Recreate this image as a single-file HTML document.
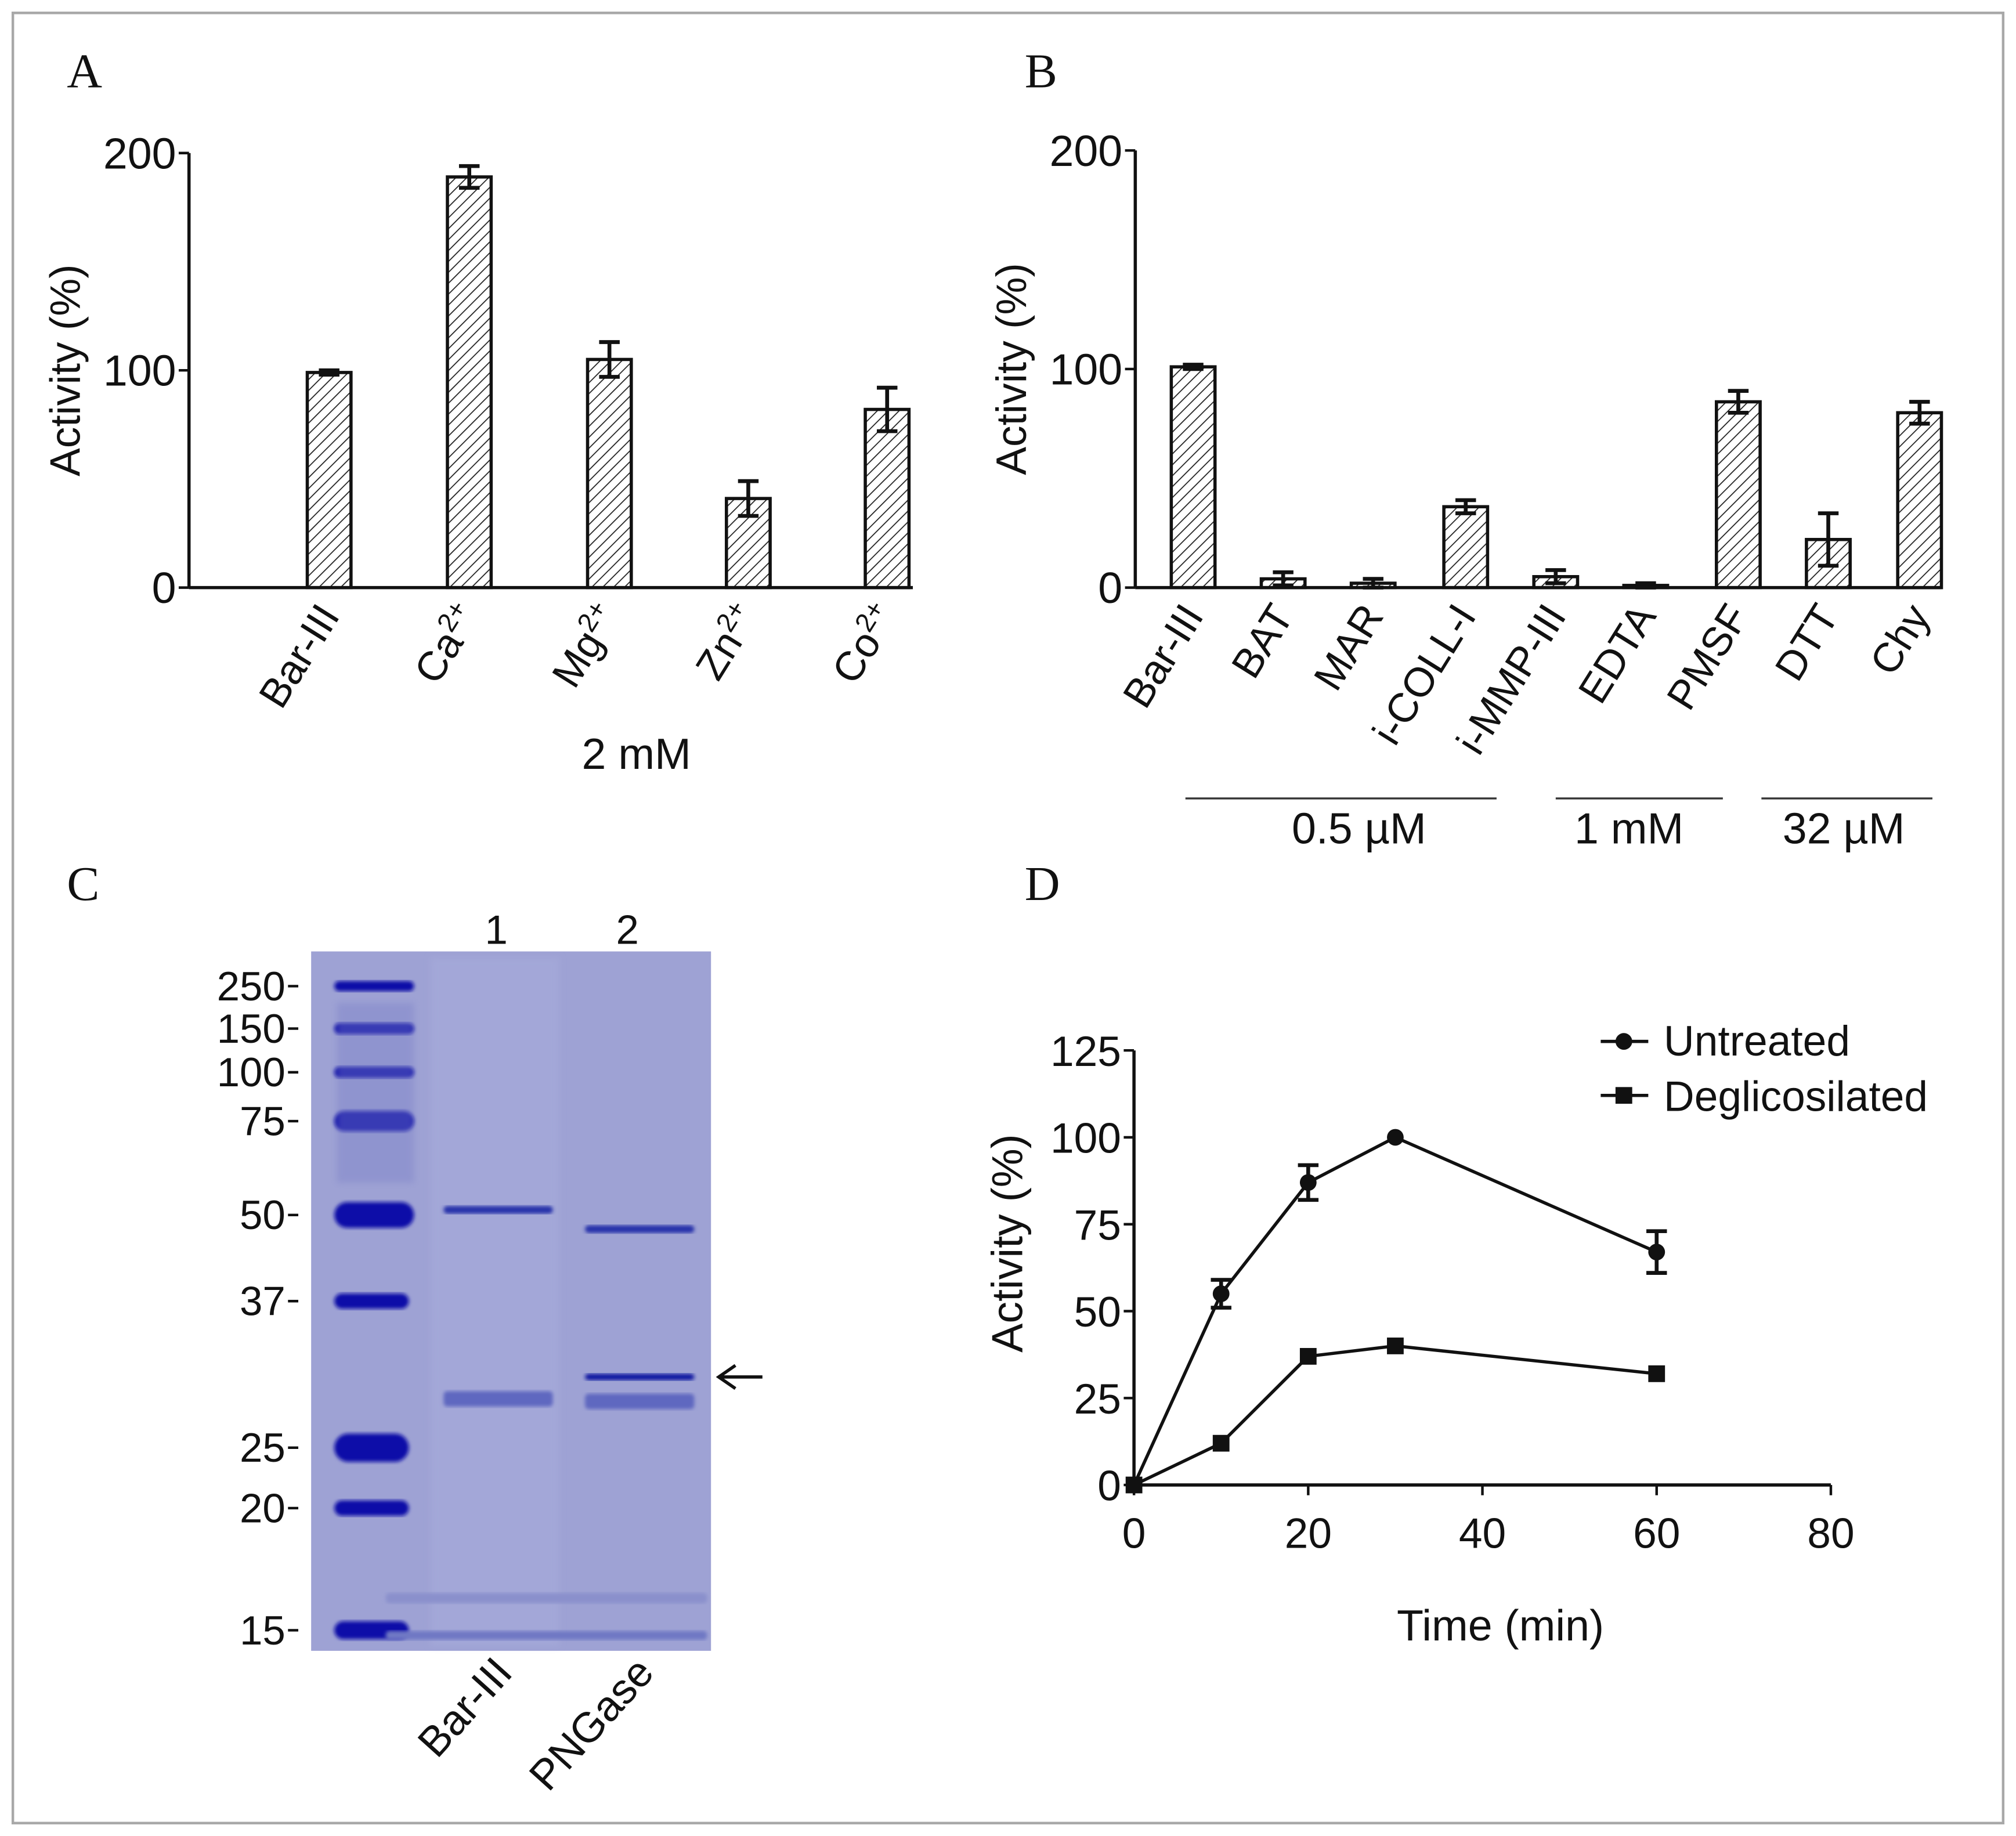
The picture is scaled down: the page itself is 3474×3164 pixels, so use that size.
<!DOCTYPE html>
<html><head><meta charset="utf-8"><style>
html,body{margin:0;padding:0;background:#fff}
svg{display:block}
text{font-family:"Liberation Sans",Arial,sans-serif;fill:#111}
.serif{font-family:"Liberation Serif",serif}
</style></head><body>
<svg id="fig" width="3474" height="3164" viewBox="0 0 1568 1428" xmlns="http://www.w3.org/2000/svg">
<defs>
<pattern id="hatch" patternUnits="userSpaceOnUse" width="6" height="6" patternTransform="rotate(45)">
<rect width="6" height="6" fill="#fff"/><line x1="0" y1="0" x2="0" y2="6" stroke="#222" stroke-width="1.6"/>
</pattern>
<filter id="blur2"><feGaussianBlur stdDeviation="2.5"/></filter>
<filter id="blur1"><feGaussianBlur stdDeviation="1.5"/></filter>
</defs>
<rect x="10" y="10" width="1548" height="1408" fill="#fff" stroke="#a8a8a8" stroke-width="2"/>
<text class="serif" x="52" y="68" font-size="38">A</text>
<text class="serif" x="797" y="68" font-size="38">B</text>
<text class="serif" x="52" y="700" font-size="38">C</text>
<text class="serif" x="797" y="700" font-size="38">D</text>
<g id="gA"></g>
<g id="gB"></g>
<g id="gC"></g>
<g id="gD"></g>
</svg>
<script>
const catsA = ["Bar-III","Ca","Mg","Zn","Co"];
const supA = ["","2+","2+","2+","2+"];
const valsA = [99,189,105,41,82];
const errA = [1,5,8,8,10];
const catsB = ["Bar-III","BAT","MAR","i-COLL-I","i-MMP-III","EDTA","PMSF","DTT","Chy"];
const valsB = [101,4,2,37,5,1,85,22,80];
const errB = [1,3,2,3,3,1,5,12,5];
const yTicksAB = [0,100,200];
const markerLabels = ["250","150","100","75","50","37","25","20","15"];
const timesD = [0,10,20,30,60];
const untreated = [0,55,87,100,67];
const untreatedErr = [0,4,5,0,6];
const deglyc = [0,12,37,40,32];
const deglycErr = [0,1,1,1,1];
const xTicksD = [0,20,40,60,80];
const yTicksD = [0,25,50,75,100,125];

const NS="http://www.w3.org/2000/svg";
function mk(parent,tag,attrs,txt){const e=document.createElementNS(NS,tag);for(const k in attrs)e.setAttribute(k,attrs[k]);if(txt!==undefined)e.textContent=txt;parent.appendChild(e);return e;}

function barChart(g,cats,vals,errs,x0,x1,yTop,yBot,centers,prefix,sup){
  const ys=v=>yBot-(v/200)*(yBot-yTop);
  mk(g,'line',{x1:x0,y1:yTop,x2:x0,y2:yBot,stroke:'#111','stroke-width':2.5});
  mk(g,'line',{x1:x0,y1:yBot,x2:x1,y2:yBot,stroke:'#111','stroke-width':2.5});
  yTicksAB.forEach(t=>{
    mk(g,'line',{x1:x0-8,y1:ys(t),x2:x0,y2:ys(t),stroke:'#111','stroke-width':2});
    const tl=mk(g,'text',{x:x0-10,y:ys(t)+12,'font-size':34,'text-anchor':'end'},t);
    
    
  });
  const yt=mk(g,'text',{x:0,y:0,'font-size':33,'text-anchor':'middle',transform:`translate(${x0-85},${(yTop+yBot)/2}) rotate(-90)`},'Activity (%)');
  
  
  cats.forEach((c,i)=>{
    const cx=centers[i], y=ys(vals[i]);
    const r=mk(g,'rect',{x:cx-17,y:y,width:34,height:yBot-y,fill:'url(#hatch)',stroke:'#111','stroke-width':2.5});
    
    
    const eu=ys(vals[i]+errs[i]), el=ys(Math.max(0,vals[i]-errs[i]));
    const eb=mk(g,'path',{d:`M${cx},${eu}V${el}M${cx-8},${eu}H${cx+8}M${cx-8},${el}H${cx+8}`,stroke:'#111','stroke-width':3,fill:'none'});
    
    
    const t=mk(g,'text',{x:0,y:0,'font-size':32,'text-anchor':'end',transform:`translate(${cx+9},${yBot+22}) rotate(-58)`},c);
    if(sup&&sup[i]) mk(t,'tspan',{'font-size':21,dy:-12},sup[i]);
    
    
  });
}
const gA=document.getElementById('gA');
barChart(gA,catsA,valsA,errA,147,710,119,457,[256,365,474,582,690],'a',supA);
const mmA=mk(gA,'text',{x:495,y:598,'font-size':34,'text-anchor':'middle'},'2 mM');



const gB=document.getElementById('gB');
barChart(gB,catsB,valsB,errB,883,1510,117,457,[928,998,1068,1140,1210,1280,1352,1422,1493],'b',null);
[[922,1164,1057,'0.5 µM'],[1210,1340,1267,'1 mM'],[1370,1503,1434,'32 µM']].forEach(a=>{
  const l=mk(gB,'line',{x1:a[0],y1:621,x2:a[1],y2:621,stroke:'#333','stroke-width':1.5});
  
  
  const t=mk(gB,'text',{x:a[2],y:656,'font-size':34,'text-anchor':'middle'},a[3]);
  
  
});

// Gel
const gC=document.getElementById('gC');
const gel=mk(gC,'rect',{x:242,y:740,width:311,height:544,fill:'#9ea2d4'});


mk(gC,'rect',{x:335,y:745,width:100,height:535,fill:'#a3a7d8',filter:'url(#blur2)'});
const markerY=[767,800,834,872,945,1012,1126,1173,1268];
const markerH=[8,9,9,16,20,12,22,12,14];
markerLabels.forEach((m,i)=>{
  const t=mk(gC,'text',{x:222,y:markerY[i]+11,'font-size':32,'text-anchor':'end'},m);
  
  
  mk(gC,'line',{x1:224,y1:markerY[i],x2:232,y2:markerY[i],stroke:'#111','stroke-width':2});
  const b=mk(gC,'rect',{x:260,y:markerY[i]-markerH[i]/2,width:62-(i>4?4:0),height:markerH[i],rx:markerH[i]/2,fill:'#1010a8',filter:'url(#blur1)'});
  
  
});
mk(gC,'rect',{x:262,y:780,width:60,height:140,fill:'#7a80c8',opacity:0.4,filter:'url(#blur2)'});
[[345,430,941,6,'#2830aa'],[455,540,956,6,'#2830aa'],[345,430,1088,12,'#5f67c0'],[455,540,1071,5,'#1018a0'],[455,540,1090,12,'#5f67c0'],[300,550,1243,8,'#8a90cc'],[300,550,1272,7,'#7078c4']].forEach(a=>{
  const b=mk(gC,'rect',{x:a[0],y:a[2]-a[3]/2,width:a[1]-a[0],height:a[3],rx:3,fill:a[4],filter:'url(#blur1)'});
  
  
});
[['1',386],['2',488]].forEach(a=>{
  const t=mk(gC,'text',{x:a[1],y:734,'font-size':32,'text-anchor':'middle'},a[0]);
  
  
});
const arr=mk(gC,'path',{d:'M593,1071H559M572,1062L559,1071L572,1080',stroke:'#111','stroke-width':2.5,fill:'none'});


[['Bar-III',400],['PNGase',510]].forEach(a=>{
  const t=mk(gC,'text',{x:0,y:0,'font-size':33,'text-anchor':'end',transform:`translate(${a[1]},${1302}) rotate(-48)`},a[0]);
  
  
});

// D
const gD=document.getElementById('gD');
const X0=882,X1=1424,Y0=1155,Y1=817;
const xs=v=>X0+v/80*(X1-X0), ysD=v=>Y0-v/125*(Y0-Y1);
mk(gD,'line',{x1:X0,y1:Y1,x2:X0,y2:Y0,stroke:'#111','stroke-width':2.5});
mk(gD,'line',{x1:X0,y1:Y0,x2:X1,y2:Y0,stroke:'#111','stroke-width':2.5});
xTicksD.forEach(t=>{
  mk(gD,'line',{x1:xs(t),y1:Y0,x2:xs(t),y2:Y0+8,stroke:'#111','stroke-width':2});
  const l=mk(gD,'text',{x:xs(t),y:Y0+49,'font-size':33,'text-anchor':'middle'},t);
  
  
});
yTicksD.forEach(t=>{
  mk(gD,'line',{x1:X0-8,y1:ysD(t),x2:X0,y2:ysD(t),stroke:'#111','stroke-width':2});
  const l=mk(gD,'text',{x:X0-10,y:ysD(t)+12,'font-size':33,'text-anchor':'end'},t);
  
  
});
const xtD=mk(gD,'text',{x:1167,y:1276,'font-size':34,'text-anchor':'middle'},'Time (min)');


const ytD=mk(gD,'text',{x:0,y:0,'font-size':34,'text-anchor':'middle',transform:`translate(795,967) rotate(-90)`},'Activity (%)');


function series(vals,errs,shape,name){
  const pl=mk(gD,'polyline',{points:timesD.map((t,i)=>xs(t)+','+ysD(vals[i])).join(' '),fill:'none',stroke:'#111','stroke-width':2.5});
  
  
  timesD.forEach((t,i)=>{
    const cx=xs(t),cy=ysD(vals[i]);
    if(errs[i]>1){const eu=ysD(vals[i]+errs[i]),el=ysD(vals[i]-errs[i]);
      const e=mk(gD,'path',{d:`M${cx},${eu}V${el}M${cx-8},${eu}H${cx+8}M${cx-8},${el}H${cx+8}`,stroke:'#111','stroke-width':3,fill:'none'});
      
      }
    const p= shape==='c'?mk(gD,'circle',{cx:cx,cy:cy,r:6.5,fill:'#111'}):mk(gD,'rect',{x:cx-6.5,y:cy-6.5,width:13,height:13,fill:'#111'});
    
    
  });
}
series(deglyc,deglycErr,'s','deglycosilated');
series(untreated,untreatedErr,'c','untreated');
const lg1=mk(gD,'g',{});


mk(lg1,'line',{x1:1245,y1:810,x2:1282,y2:810,stroke:'#111','stroke-width':2.5});
mk(lg1,'circle',{cx:1263,cy:810,r:6.5,fill:'#111'});
mk(lg1,'text',{x:1294,y:821,'font-size':33},'Untreated');
const lg2=mk(gD,'g',{});


mk(lg2,'line',{x1:1245,y1:852,x2:1282,y2:852,stroke:'#111','stroke-width':2.5});
mk(lg2,'rect',{x:1256.5,y:845.5,width:13,height:13,fill:'#111'});
mk(lg2,'text',{x:1294,y:864,'font-size':33},'Deglicosilated');
</script>
</body></html>
